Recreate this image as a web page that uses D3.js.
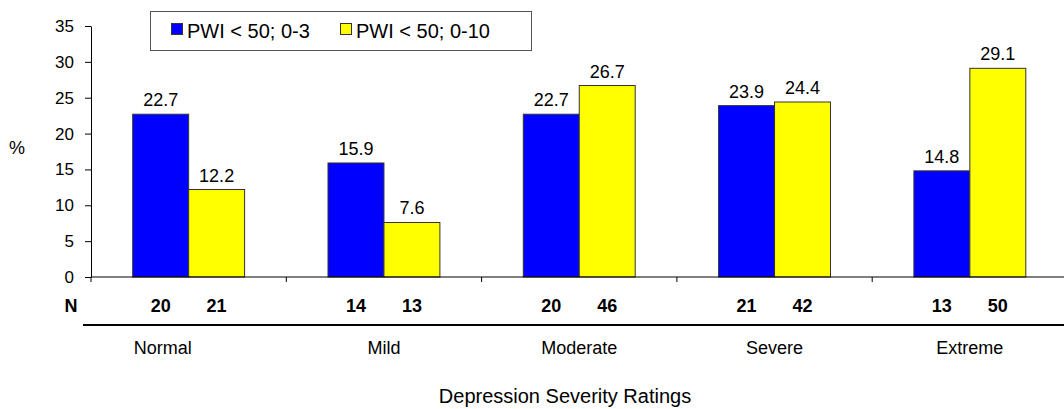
<!DOCTYPE html>
<html>
<head>
<meta charset="utf-8">
<script src="https://cdn.jsdelivr.net/npm/d3@7/dist/d3.min.js"></script>
<style>
  html, body { margin: 0; padding: 0; background: #fff; }
  svg { display: block; font-family: "Liberation Sans", Arial, Helvetica, sans-serif; }
</style>
</head>
<body>
<svg id="chart" width="1064" height="409"></svg>
<script>
// Depression severity groups and the two PWI series
const categories = ["Normal", "Mild", "Moderate", "Severe", "Extreme"];
const seriesNames = ["PWI < 50; 0-3", "PWI < 50; 0-10"];
const pctShort = [22.7, 15.9, 22.7, 23.9, 14.8];   // PWI < 50; 0-3 (%)
const pctLong  = [12.2, 7.6, 26.7, 24.4, 29.1];    // PWI < 50; 0-10 (%)
const nShort = [20, 14, 20, 21, 13];
const nLong  = [21, 13, 46, 42, 50];
const yTicks = [0, 5, 10, 15, 20, 25, 30, 35];
const seriesColors = ["#0000ff", "#ffff00"];

const svg = d3.select("#chart");
const W = 1064;

const plotLeft = 91, plotTop = 26, plotBottom = 277;
const stepW = 195.3;

const y = d3.scaleLinear().domain([0, 35]).range([plotBottom, plotTop]);
const x = d3.scaleBand()
  .domain(categories)
  .range([plotLeft, plotLeft + stepW * categories.length])
  .paddingInner(0.427)
  .paddingOuter(0.2135);
const xs = d3.scaleBand().domain([0, 1]).range([0, x.bandwidth()]);

const rows = categories.map((c, i) => ({
  cat: c,
  vals: [pctShort[i], pctLong[i]],
  ns: [nShort[i], nLong[i]]
}));

// Y axis
const yAxis = d3.axisLeft(y).tickValues(yTicks).tickSize(6).tickPadding(11).tickSizeOuter(0);
const gy = svg.append("g").attr("transform", `translate(${plotLeft},0)`).call(yAxis);
gy.select(".domain").attr("stroke", "#000");
gy.selectAll(".tick line").attr("stroke", "#000");
gy.selectAll(".tick text").attr("font-size", 17).attr("fill", "#000")
  .attr("font-family", "'Liberation Sans', Arial, sans-serif");

// Y axis label
svg.append("text").attr("x", 17).attr("y", 154).attr("text-anchor", "middle")
  .attr("font-size", 18).text("%");

// Bars
const groups = svg.append("g").selectAll("g").data(rows).join("g")
  .attr("transform", d => `translate(${x(d.cat)},0)`);

groups.selectAll("rect").data(d => d.vals).join("rect")
  .attr("x", (v, j) => xs(j))
  .attr("width", xs.bandwidth())
  .attr("y", v => y(v))
  .attr("height", v => y(0) - y(v))
  .attr("fill", (v, j) => seriesColors[j])
  .attr("stroke", "#333")
  .attr("stroke-width", 1);

// Value labels above bars
groups.selectAll("text.val").data(d => d.vals).join("text")
  .attr("class", "val")
  .attr("x", (v, j) => xs(j) + xs.bandwidth() / 2)
  .attr("y", v => y(v) - 8)
  .attr("text-anchor", "middle")
  .attr("font-size", 18)
  .text(v => v.toFixed(1));

// X axis baseline with tick marks at group boundaries
svg.append("line").attr("x1", plotLeft).attr("x2", W).attr("y1", plotBottom).attr("y2", plotBottom)
  .attr("stroke", "#000").attr("stroke-width", 1);
const bounds = d3.range(categories.length + 1).map(i => x.range()[0] + i * x.step());
svg.append("g").selectAll("line").data(bounds).join("line")
  .attr("x1", d => d).attr("x2", d => d)
  .attr("y1", plotBottom).attr("y2", plotBottom + 5)
  .attr("stroke", "#000");

// Sample sizes row
svg.append("text").attr("x", 71).attr("y", 312).attr("text-anchor", "middle")
  .attr("font-size", 18).attr("font-weight", "bold").text("N");
groups.selectAll("text.n").data(d => d.ns).join("text")
  .attr("class", "n")
  .attr("x", (v, j) => xs(j) + xs.bandwidth() / 2)
  .attr("y", 312)
  .attr("text-anchor", "middle")
  .attr("font-size", 18)
  .attr("font-weight", "bold")
  .text(v => v);

// Rule between sample sizes and category names
svg.append("line").attr("x1", 83).attr("x2", W).attr("y1", 325).attr("y2", 325)
  .attr("stroke", "#000").attr("stroke-width", 2);

// Category names
svg.append("g").selectAll("text").data(categories).join("text")
  .attr("x", d => x(d) + x.bandwidth() / 2)
  .attr("dx", (d, i) => i === 0 ? -26 : 0)
  .attr("y", 354)
  .attr("text-anchor", "middle")
  .attr("font-size", 18)
  .text(d => d);

// X axis title
svg.append("text").attr("x", 565).attr("y", 403).attr("text-anchor", "middle")
  .attr("font-size", 20).text("Depression Severity Ratings");

// Legend
const lg = svg.append("g");
lg.append("rect").attr("x", 150.5).attr("y", 11.5).attr("width", 381).attr("height", 39)
  .attr("fill", "#fff").attr("stroke", "#555").attr("stroke-width", 1);
const legendX = [171, 340];
seriesNames.forEach((name, j) => {
  lg.append("rect").attr("x", legendX[j] + 0.5).attr("y", 23.5).attr("width", 11).attr("height", 11)
    .attr("fill", seriesColors[j]).attr("stroke", "#333");
  lg.append("text").attr("x", legendX[j] + 16).attr("y", 37.5)
    .attr("font-size", 20).text(name);
});
</script>
</body>
</html>
